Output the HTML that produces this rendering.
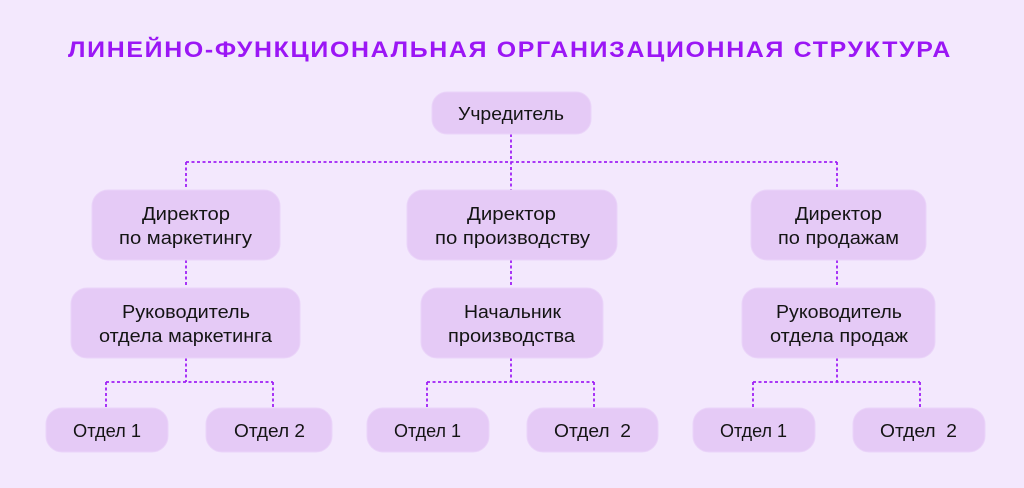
<!DOCTYPE html>
<html><head><meta charset="utf-8"><style>
html,body{margin:0;padding:0;background:#F3E8FD;}
svg{display:block;}
</style></head><body>
<svg width="1024" height="488" viewBox="0 0 1024 488" xmlns="http://www.w3.org/2000/svg">
<rect x="0" y="0" width="1024" height="488" fill="#F3E8FD"/>
<text x="68" y="57" font-family="Liberation Sans, sans-serif" font-weight="bold" font-size="22" letter-spacing="1.5" fill="#9B16F5" textLength="884" lengthAdjust="spacingAndGlyphs">ЛИНЕЙНО-ФУНКЦИОНАЛЬНАЯ ОРГАНИЗАЦИОННАЯ СТРУКТУРА</text>

<g stroke="#A020F5" stroke-width="1.8" stroke-dasharray="3 2.5" fill="none">
<path d="M511 134 V190"/>
<path d="M186 162 H837"/>
<path d="M186 162 V190"/>
<path d="M837 162 V190"/>
<path d="M186 260 V288 M511 260 V288 M837 260 V288"/>
<path d="M186 358 V382 M511 358 V382 M837 358 V382"/>
<path d="M106 382 H273 M427 382 H594 M753 382 H920"/>
<path d="M106 382 V408 M273 382 V408 M427 382 V408 M594 382 V408 M753 382 V408 M920 382 V408"/>
</g>

<g fill="#E5CAF6" stroke="#EAD4F9" stroke-width="1">
<rect x="432" y="92" width="159" height="42" rx="15"/>
<rect x="92" y="190" width="188" height="70" rx="16"/>
<rect x="407" y="190" width="210" height="70" rx="16"/>
<rect x="751" y="190" width="175" height="70" rx="16"/>
<rect x="71" y="288" width="229" height="70" rx="16"/>
<rect x="421" y="288" width="182" height="70" rx="16"/>
<rect x="742" y="288" width="193" height="70" rx="16"/>
<rect x="46" y="408" width="122" height="44" rx="16"/>
<rect x="206" y="408" width="126" height="44" rx="16"/>
<rect x="367" y="408" width="122" height="44" rx="16"/>
<rect x="527" y="408" width="131" height="44" rx="16"/>
<rect x="693" y="408" width="122" height="44" rx="16"/>
<rect x="853" y="408" width="132" height="44" rx="16"/>
</g>

<g font-family="Liberation Sans, sans-serif" font-size="18" fill="#141414">
<text x="458" y="120" textLength="106" lengthAdjust="spacingAndGlyphs">Учредитель</text>

<text x="142" y="220" textLength="88" lengthAdjust="spacingAndGlyphs">Директор</text>
<text x="119" y="244" textLength="133" lengthAdjust="spacingAndGlyphs">по маркетингу</text>
<text x="467" y="220" textLength="89" lengthAdjust="spacingAndGlyphs">Директор</text>
<text x="435" y="244" textLength="155" lengthAdjust="spacingAndGlyphs">по производству</text>
<text x="795" y="220" textLength="87" lengthAdjust="spacingAndGlyphs">Директор</text>
<text x="778" y="244" textLength="121" lengthAdjust="spacingAndGlyphs">по продажам</text>

<text x="122" y="318" textLength="128" lengthAdjust="spacingAndGlyphs">Руководитель</text>
<text x="99" y="342" textLength="173" lengthAdjust="spacingAndGlyphs">отдела маркетинга</text>
<text x="464" y="318" textLength="97" lengthAdjust="spacingAndGlyphs">Начальник</text>
<text x="448" y="342" textLength="127" lengthAdjust="spacingAndGlyphs">производства</text>
<text x="776" y="318" textLength="126" lengthAdjust="spacingAndGlyphs">Руководитель</text>
<text x="770" y="342" textLength="138" lengthAdjust="spacingAndGlyphs">отдела продаж</text>

<text x="73" y="437" textLength="68" lengthAdjust="spacingAndGlyphs">Отдел 1</text>
<text x="234" y="437" textLength="71" lengthAdjust="spacingAndGlyphs">Отдел 2</text>
<text x="394" y="437" textLength="67" lengthAdjust="spacingAndGlyphs">Отдел 1</text>
<text x="554" y="437" textLength="77" lengthAdjust="spacingAndGlyphs" xml:space="preserve">Отдел  2</text>
<text x="720" y="437" textLength="67" lengthAdjust="spacingAndGlyphs">Отдел 1</text>
<text x="880" y="437" textLength="77" lengthAdjust="spacingAndGlyphs" xml:space="preserve">Отдел  2</text>
</g>
</svg>
</body></html>
